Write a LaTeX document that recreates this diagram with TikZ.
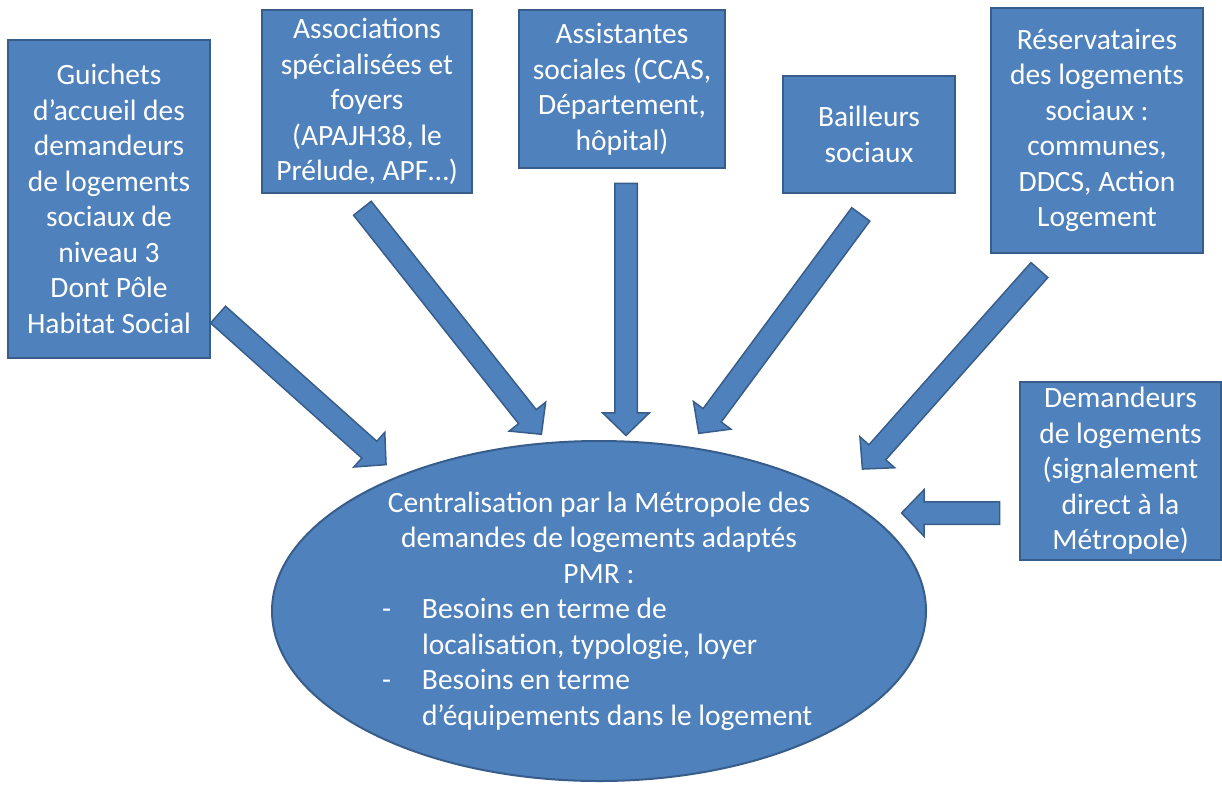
\documentclass[tikz,border=0pt]{standalone}
\usepackage{fontspec}
\setmainfont{Carlito}
\usetikzlibrary{shapes.geometric,shapes.arrows,calc}
\definecolor{boxfill}{HTML}{4F81BD}
\definecolor{boxline}{HTML}{385D8A}
\tikzset{
  txt/.style={font=\fontsize{29.5}{35.5}\selectfont, text=white},
  box/.style={txt, rectangle, draw=boxline, fill=boxfill, line width=2pt, inner sep=0pt, align=center},
  blockarrow/.style={single arrow, draw=boxline, fill=boxfill, line width=1.5pt, inner xsep=0pt, inner ysep=10.5pt,
    single arrow head extend=12pt, single arrow head indent=0pt, single arrow tip angle=92, anchor=center},
}
\newcommand{\blockarrowbetween}[2]{%
  \path let \p1=($(#2)-(#1)$), \n1={veclen(\x1,\y1)}, \n2={atan2(\y1,\x1)} in
    node[blockarrow, minimum height=\n1, rotate=\n2] at ($(#1)!0.5!(#2)$) {};}
\begin{document}
\begin{tikzpicture}[x=1pt,y=-1pt]
\useasboundingbox (0,0) rectangle (1222,785);
% boxes
\node[box, minimum width=202pt, minimum height=318pt] (guichets) at (109,199)
  {Guichets\\d’accueil des\\demandeurs\\de logements\\sociaux de\\niveau 3\\Dont Pôle\\Habitat Social};
\node[box, minimum width=210pt, minimum height=183pt] (assoc) at (367,101.5)
  {Associations\\spécialisées et\\foyers\\(APAJH38, le\\Prélude, APF…)};
\node[box, minimum width=206pt, minimum height=158pt] (assist) at (622,89)
  {Assistantes\\sociales (CCAS,\\Département,\\hôpital)};
\node[box, minimum width=172pt, minimum height=117pt] (bailleurs) at (869,134.5)
  {Bailleurs\\sociaux};
\node[box, minimum width=212pt, minimum height=245pt] (reserv) at (1097,130.5)
  {Réservataires\\des logements\\sociaux :\\communes,\\DDCS, Action\\Logement};
\node[box, minimum width=201pt, minimum height=178pt] (demand) at (1120.5,471)
  {Demandeurs\\de logements\\(signalement\\direct à la\\Métropole)};
% central ellipse
\node[box, ellipse, minimum width=654pt, minimum height=340pt] (centre) at (599,611)
  {Centralisation par la Métropole des\\
   demandes de logements adaptés\\
   PMR :\\
   \makebox[434pt][l]{\makebox[40pt][l]{-}Besoins en terme de}\\
   \makebox[434pt][l]{\hspace*{40pt}localisation, typologie, loyer}\\
   \makebox[434pt][l]{\makebox[40pt][l]{-}Besoins en terme}\\
   \makebox[434pt][l]{\hspace*{40pt}d’équipements dans le logement}};
% arrow ends
\coordinate (a1s) at (214,311);  \coordinate (a1e) at (382,461);
\coordinate (a2s) at (359,204);  \coordinate (a2e) at (538,430);
\coordinate (a3s) at (626,178);  \coordinate (a3e) at (626,430);
\coordinate (a4s) at (864,210);  \coordinate (a4e) at (702,429);
\coordinate (a5s) at (1043,266); \coordinate (a5e) at (866,465);
\coordinate (a6s) at (1005,513); \coordinate (a6e) at (907,513);
\blockarrowbetween{a1s}{a1e}
\blockarrowbetween{a2s}{a2e}
\blockarrowbetween{a3s}{a3e}
\blockarrowbetween{a4s}{a4e}
\blockarrowbetween{a5s}{a5e}
\blockarrowbetween{a6s}{a6e}
\end{tikzpicture}
\end{document}
